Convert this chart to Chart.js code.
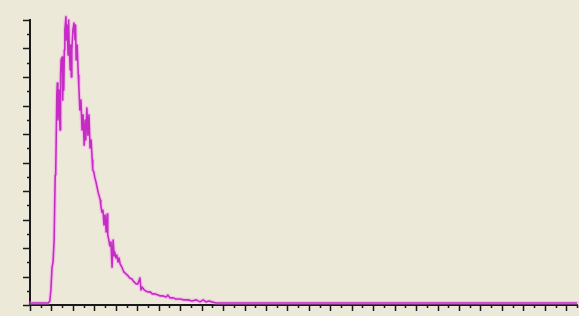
<!DOCTYPE html>
<html>
<head>
<meta charset="utf-8">
<script src="https://cdn.jsdelivr.net/npm/chart.js@4.4.1/dist/chart.umd.min.js"></script>
<style>
  html, body { margin: 0; padding: 0; background: #ECE9D8; }
  #wrap { width: 579px; height: 316px; position: relative; }
</style>
</head>
<body>
<div id="wrap"><canvas id="c" width="579" height="316"></canvas></div>
<script>
// Channel numbers (x) and counts (y)
const channels = [0, 19, 34, 37, 39, 41, 43, 45, 47, 48, 50, 51, 52, 54, 56, 57, 58, 60, 61, 62, 63, 64, 65, 67, 68, 69, 71, 72, 73, 75, 76, 77, 78, 80, 82, 84, 85, 86, 88, 90, 91, 93, 95, 97, 99, 101, 103, 104, 106, 108, 110, 112, 114, 116, 117, 119, 121, 123, 125, 127, 129, 131, 132, 134, 136, 138, 140, 142, 144, 145, 147, 149, 151, 153, 155, 157, 158, 160, 162, 164, 166, 168, 172, 175, 179, 183, 186, 190, 194, 198, 201, 205, 207, 209, 213, 216, 220, 224, 228, 233, 239, 242, 248, 254, 257, 261, 267, 272, 280, 287, 295, 302, 310, 317, 323, 328, 334, 339, 347, 354, 503, 690, 876, 1020];
const counts = [0.7, 0.7, 0.7, 1.4, 5.3, 13.0, 15.1, 22.8, 45.6, 46.7, 73.7, 77.9, 64.9, 75.4, 61.4, 80.7, 86.0, 87.0, 71.9, 85.3, 75.4, 89.5, 96.5, 101.1, 93.0, 98.2, 87.7, 100, 91.2, 82.5, 91.2, 80, 89.5, 96.5, 98.9, 93.0, 98.2, 86.0, 91.2, 80.7, 77.2, 68.4, 71.9, 61.4, 66.7, 56.1, 64.9, 57.9, 69.1, 59.6, 66.7, 55.1, 57.9, 50.9, 47.4, 46.7, 44.6, 43.2, 41.4, 39.6, 38.2, 36.8, 35.1, 32.6, 33.3, 28.1, 31.6, 25.6, 31.9, 24.6, 22.8, 20.7, 22.1, 13.3, 22.8, 17.2, 18.6, 16.5, 17.5, 15.1, 16.5, 14.4, 13.0, 11.6, 10.9, 10.2, 9.5, 9.1, 8.1, 7.4, 7.4, 9.5, 5.3, 6.3, 5.3, 4.9, 4.6, 4.6, 3.9, 3.9, 3.5, 3.2, 3.2, 2.8, 3.5, 2.5, 2.5, 2.1, 2.1, 1.8, 1.8, 1.4, 1.8, 1.1, 1.8, 1.1, 1.4, 1.1, 0.7, 0.7, 0.7, 0.7, 0.7, 0.7];

// Axis ranges and tick steps (no tick labels shown)
const xRange = [0, 1020];
const xTickStep = 20;
const yRange = [0, 100];
const yTickStep = 5;

const points = channels.map((c, i) => ({ x: c, y: counts[i] }));

const tickPlugin = {
  id: 'customTicks',
  afterDraw(chart) {
    const ctx = chart.ctx;
    const xs = chart.scales.x, ys = chart.scales.y;
    const area = chart.chartArea;
    ctx.save();
    ctx.strokeStyle = '#1a1a1a';
    ctx.lineWidth = 1.5;
    ctx.beginPath();
    xs.ticks.forEach(t => {
      const px = Math.round(xs.getPixelForValue(t.value)) + 0.5;
      const major = Math.round(t.value / xTickStep) % 2 === 0;
      const len = major ? 6 : 3;
      ctx.moveTo(px, area.bottom);
      ctx.lineTo(px, area.bottom + len);
    });
    ys.ticks.forEach(t => {
      const py = Math.round(ys.getPixelForValue(t.value)) + 0.5;
      const major = Math.round(t.value / yTickStep) % 2 === 0;
      const len = major ? 7 : 3;
      ctx.moveTo(area.left, py);
      ctx.lineTo(area.left - len, py);
    });
    ctx.stroke();
    ctx.restore();
  }
};

new Chart(document.getElementById('c'), {
  type: 'line',
  data: {
    datasets: [{
      data: points,
      borderColor: '#c42cc4',
      borderWidth: 1.6,
      borderJoinStyle: 'round',
      pointRadius: 0,
      tension: 0,
      fill: false,
      clip: false,
      order: 0
    }, {
      data: points,
      borderColor: 'rgba(255,120,255,0.35)',
      borderWidth: 4,
      borderJoinStyle: 'round',
      borderCapStyle: 'round',
      pointRadius: 0,
      tension: 0,
      fill: false,
      clip: false,
      order: 1
    }]
  },
  options: {
    responsive: false,
    animation: false,
    events: [],
    layout: { padding: { top: 20, right: 2, left: 0, bottom: 0 } },
    plugins: { legend: { display: false }, tooltip: { enabled: false } },
    scales: {
      x: {
        type: 'linear',
        min: xRange[0], max: xRange[1],
        ticks: { display: false, stepSize: xTickStep },
        grid: { display: false },
        border: { display: true, color: '#1a1a1a', width: 2 },
        afterFit(s) { s.height = 11; }
      },
      y: {
        type: 'linear',
        min: yRange[0], max: yRange[1],
        ticks: { display: false, stepSize: yTickStep },
        grid: { display: false },
        border: { display: true, color: '#1a1a1a', width: 2 },
        afterFit(s) { s.width = 30; }
      }
    }
  },
  plugins: [tickPlugin]
});
</script>
</body>
</html>
